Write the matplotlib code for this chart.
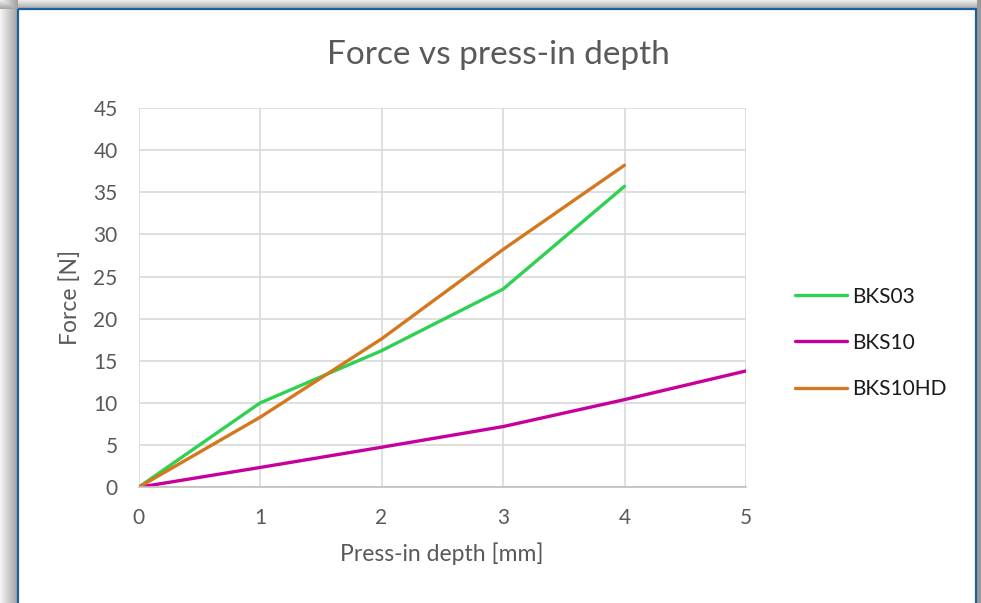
import numpy as np
import matplotlib.pyplot as plt
from matplotlib.patches import Rectangle

# data
depth = [0, 1, 2, 3, 4, 5]
bks03 = [0, 10.0, 16.2, 23.5, 35.7]
bks10 = [0, 2.35, 4.75, 7.2, 10.4, 13.8]
bks10hd = [0, 8.3, 17.6, 28.2, 38.2]

names = ["BKS03", "BKS10", "BKS10HD"]
colors = ["#2FD152", "#C8009A", "#D5781D"]

plt.rcParams['font.family'] = ['Lato', 'DejaVu Sans']
W, H = 981, 603
fig = plt.figure(figsize=(W / 100, H / 100), dpi=100, facecolor='white')

# window shadow / frame behind the chart
bg = fig.add_axes([0, 0, 1, 1], zorder=-5)
img = np.ones((H, W, 3))
left = np.linspace(0.96, 0.63, 18)
for i, v in enumerate(left):
    img[:, i, :] = np.minimum(img[:, i, :], v)
top = np.linspace(0.92, 0.66, 9)
for j, v in enumerate(top):
    img[j, :, :] = np.minimum(img[j, :, :], v)
img[:, 977:, :] = 0.6
bg.imshow(img, extent=[0, W, H, 0], aspect='auto')
bg.add_patch(Rectangle((18, 9), 958, H, fill=False, edgecolor='#1E5F9E', lw=1.6))
bg.set_xlim(0, W)
bg.set_ylim(H, 0)
bg.axis('off')

ax = fig.add_axes([138.5 / W, 1 - 487.3 / H, (746 - 138.5) / W, (487.3 - 107.9) / H])
ax.set_facecolor('none')
ax.plot(depth[:len(bks03)], bks03, color=colors[0], lw=2.4, label=names[0], solid_capstyle='round')
ax.plot(depth, bks10, color=colors[1], lw=2.4, label=names[1], solid_capstyle='round')
ax.plot(depth[:len(bks10hd)], bks10hd, color=colors[2], lw=2.4, label=names[2], solid_capstyle='round')

ax.set_xlim(0, 5)
ax.set_ylim(0, 45)
ax.set_xticks(range(0, 6))
ax.set_yticks(range(0, 46, 5))
ax.grid(True, color='#D9D9D9', lw=1.2)
ax.set_axisbelow(True)
for s in ['top', 'right', 'left']:
    ax.spines[s].set_visible(False)
ax.spines['bottom'].set_color('#BFBFBF')
ax.spines['bottom'].set_linewidth(1.2)
ax.tick_params(length=0, labelsize=15, labelcolor='#595959')
ax.tick_params(axis='x', pad=15)
ax.tick_params(axis='y', pad=15)

ax.set_xlabel("Press-in depth [mm]", fontsize=16.5, color='#595959', labelpad=10)
ax.set_ylabel("Force [N]", fontsize=16.5, color='#595959', labelpad=9)
fig.text(498 / W, 1 - 55 / H, "Force vs press-in depth", fontsize=24,
         color='#595959', ha='center', va='center')

leg = fig.legend(loc='upper left', bbox_to_anchor=(776 / W, 1 - 268 / H),
                 frameon=False, fontsize=15, handlelength=2.5, handletextpad=0.25,
                 labelspacing=1.25)
for t in leg.get_texts():
    t.set_color('#1A1A1A')

fig.savefig("out.png", dpi=100, facecolor='white')
